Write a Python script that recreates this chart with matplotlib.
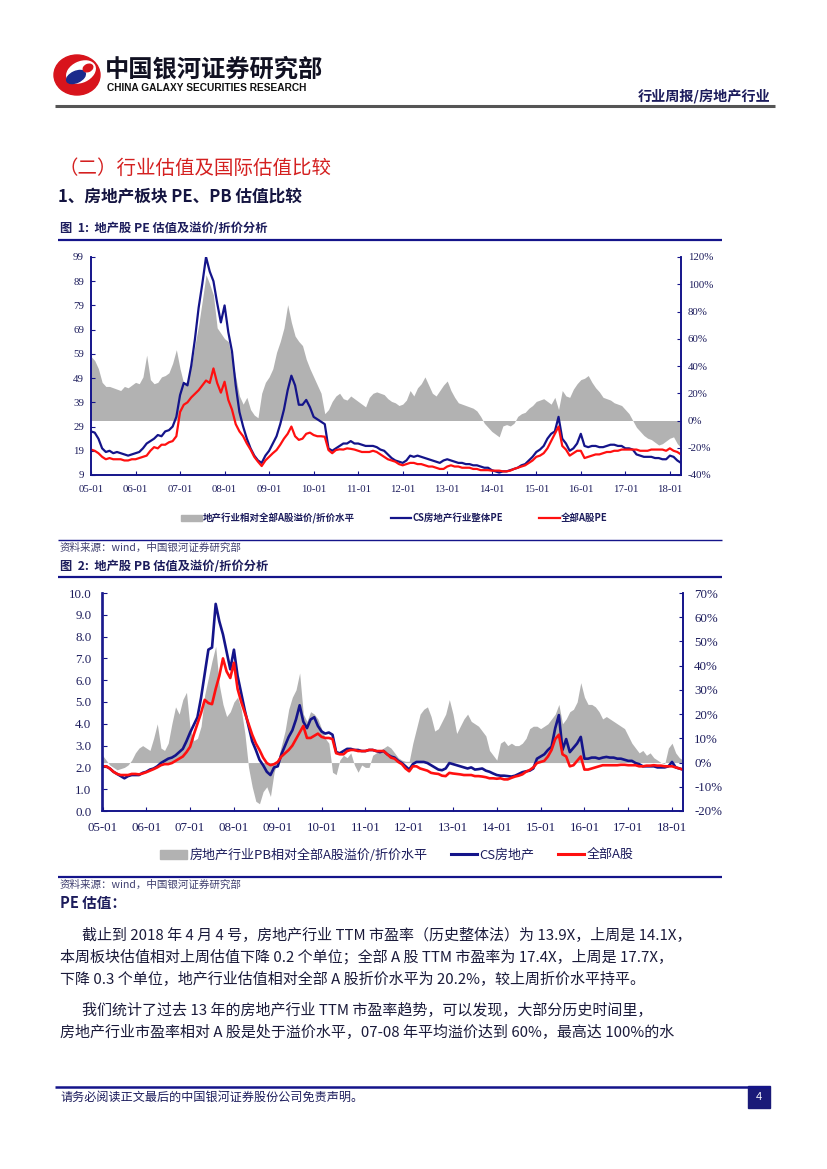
import numpy as np
import matplotlib
matplotlib.use("Agg")
import matplotlib.pyplot as plt
from matplotlib.patches import Ellipse, Rectangle, Patch
from matplotlib.lines import Line2D

plt.rcParams['font.family'] = ['Noto Sans CJK SC', 'DejaVu Sans']

# ---------------- data (monthly, 2005-01 .. 2018-04) ----------------
x_ticklabels = ['05-01', '06-01', '07-01', '08-01', '09-01', '10-01', '11-01',
                '12-01', '13-01', '14-01', '15-01', '16-01', '17-01', '18-01']

pe_cs = [27, 26.5, 24, 20, 18.5, 19, 18, 18.5, 18, 17.5, 17, 17.5,
         18, 18.5, 20, 22, 23, 24, 25.5, 25, 27, 27.5, 29, 33,
         42, 47, 46, 54, 65, 78, 88, 99, 93, 89, 80, 72,
         79, 68, 60, 46, 35, 29, 24, 20, 17, 15, 14, 17,
         19, 22, 25, 30, 36, 44, 50, 46, 38, 38, 40, 37,
         33, 32, 31, 30, 20, 19, 20, 21, 22, 22, 23, 22,
         22, 21.5, 21, 21, 21, 20.5, 19.5, 19, 17.5, 16, 15, 14.5,
         14, 15, 17, 16.5, 17, 16.5, 16, 15.5, 15, 14.5, 14, 15,
         15.5, 15, 14.5, 14, 14, 13.5, 13.5, 13, 13, 12.5, 12, 12,
         11, 10.5, 10, 10.5, 10.5, 11, 11.5, 12, 13, 13.5, 15, 16.5,
         18.5, 19.5, 21, 24, 26, 27, 33, 24, 22, 19, 20, 22,
         26, 21, 20.5, 21, 21, 20.5, 20.5, 21, 21.5, 21.5, 21, 21,
         20, 20, 19.5, 17.5, 17, 16.5, 16.5, 16.5, 16, 16, 15.5, 15.5,
         17, 16.5, 15, 14]

pe_all = [19.5, 19, 18, 16.5, 15.5, 16, 15.5, 15.5, 15.5, 15, 15, 15.5,
          15.5, 16, 16.5, 17, 19, 20.5, 20, 21.5, 21.5, 22.5, 23, 25,
          35, 38, 39, 41, 42.5, 44, 46, 48, 47, 53, 47, 43,
          47.5, 40, 36, 30, 27, 25, 22, 19.5, 16.5, 14.5, 12.7, 15,
          16.5, 18, 19.3, 21.5, 24, 26, 29, 25, 23.5, 24, 26, 26.5,
          25.5, 25, 25, 24.8, 19.3, 18, 19.3, 19.6, 19.5, 20, 19.8, 19.5,
          19, 18.5, 18.5, 18.5, 19, 18.5, 17.5, 16.5, 15.5, 15, 14.5, 13.5,
          13, 13.5, 14, 14, 13.5, 13.5, 13, 12.5, 12.5, 12, 11.5, 11.5,
          12.5, 13, 12.5, 12.5, 12, 12, 12, 11.5, 11.5, 11, 11, 11,
          10.8, 10.8, 10.8, 10.5, 10.5, 10.8, 11.5, 12, 12.5, 13, 14, 15,
          16.5, 17, 18, 20, 23, 26, 29, 21, 19.5, 17, 18, 19,
          19, 16, 16.5, 17, 17.5, 17.5, 18, 18.5, 18.5, 19, 19, 19.5,
          19.5, 19.5, 19.5, 19.5, 19, 19, 19, 19.5, 19.5, 19.5, 19.5, 19,
          20, 19, 18.5, 17.5]

pe_premium = [47, 44, 38, 28, 25, 25, 24, 23, 22, 25, 24, 26,
              28, 27, 32, 48, 30, 27, 28, 32, 33, 35, 42, 52,
              38, 27, 29, 40, 55, 70, 88, 107, 100, 92, 68, 64,
              60, 58, 45, 32, 18, 12, 17, 8, 4, 2, 20, 28,
              32, 38, 50, 58, 68, 85, 72, 62, 58, 55, 45, 38,
              32, 26, 20, 5, 8, 14, 18, 20, 16, 15, 18, 16,
              14, 12, 10, 17, 20, 21, 20, 19, 16, 14, 13, 11,
              12, 15, 22, 18, 24, 27, 32, 26, 20, 18, 22, 26,
              29, 22, 17, 13, 12, 11, 10, 9, 7, 3, -2, -5,
              -8, -10, -12, -4, -3, -4, -2, 3, 5, 6, 9, 11,
              14, 15, 16, 14, 12, 17, 8, 22, 18, 17, 23, 27,
              30, 31, 33, 28, 24, 21, 17, 16, 15, 13, 12, 11,
              8, 5, 0, -5, -8, -11, -13, -14, -16, -18, -17, -15,
              -13, -12, -17, -20]

pb_cs = [2.05, 2.05, 1.95, 1.8, 1.7, 1.6, 1.5, 1.6, 1.65, 1.65, 1.65, 1.75,
         1.8, 1.9, 1.95, 2.05, 2.2, 2.3, 2.4, 2.45, 2.55, 2.7, 2.85, 3.2,
         3.6, 3.95, 4.3, 5.2, 6.3, 7.4, 7.5, 9.5, 8.7, 8.1, 7.3, 6.5,
         7.4, 6.2, 5.4, 4.6, 3.9, 3.2, 2.8, 2.35, 2.1, 1.8, 1.65, 2.0,
         2.05, 2.6, 3.0, 3.4, 3.7, 4.2, 4.85, 4.1, 3.8, 4.2, 4.3, 3.9,
         3.65, 3.55, 3.6, 3.5, 2.7, 2.65, 2.75, 2.85, 2.85, 2.8, 2.8, 2.75,
         2.75, 2.8, 2.8, 2.75, 2.7, 2.75, 2.6, 2.5, 2.45, 2.3, 2.2, 2.05,
         1.9, 2.15, 2.25, 2.25, 2.25, 2.2, 2.1, 2.0, 1.9, 1.87, 1.95, 2.2,
         2.15, 2.1, 2.05, 2.0, 1.95, 2.0, 1.9, 1.92, 1.95, 1.85, 1.8, 1.72,
         1.65, 1.62, 1.62, 1.6, 1.58, 1.62, 1.7, 1.78, 1.82, 1.85, 1.95, 2.4,
         2.5, 2.6, 2.8, 2.95, 3.8, 4.4, 2.8, 3.3, 2.7, 2.9, 3.1, 3.4,
         2.4, 2.4, 2.45, 2.45, 2.4, 2.45, 2.48, 2.45, 2.45, 2.4, 2.4, 2.35,
         2.3, 2.3, 2.2, 2.15, 2.05, 2.05, 2.05, 2.05, 2.0, 2.0, 2.0, 2.05,
         2.25, 2.0, 1.95, 1.9]

pb_all = [2.05, 2.05, 1.95, 1.8, 1.7, 1.65, 1.65, 1.65, 1.7, 1.7, 1.68, 1.72,
          1.78, 1.85, 1.92, 2.0, 2.1, 2.15, 2.15, 2.2, 2.3, 2.4, 2.5, 2.7,
          2.95, 3.5, 4.0, 4.5, 5.1, 4.95, 4.9, 5.6, 6.2, 7.0, 6.4, 6.1,
          6.8, 5.6, 5.0, 4.5, 4.0, 3.5, 3.1, 2.8, 2.45, 2.2, 2.1, 2.15,
          2.25, 2.5, 2.65, 2.8, 3.0, 3.3, 3.6, 3.9, 3.35, 3.35, 3.45, 3.55,
          3.4, 3.35, 3.35, 3.3, 2.65, 2.6, 2.6, 2.75, 2.8, 2.8, 2.75, 2.75,
          2.75, 2.8, 2.8, 2.75, 2.75, 2.75, 2.6, 2.45, 2.4, 2.25, 2.15, 1.95,
          1.82, 2.05, 2.05, 1.95, 1.9, 1.85, 1.75, 1.72, 1.7, 1.62, 1.6, 1.75,
          1.72, 1.7, 1.68, 1.65, 1.65, 1.65, 1.6, 1.6, 1.58, 1.55, 1.5, 1.5,
          1.48, 1.5, 1.45, 1.45, 1.52, 1.58, 1.62, 1.68, 1.8, 1.88, 2.0, 2.2,
          2.25, 2.3, 2.5, 2.8, 3.3, 3.5, 2.6, 2.5, 2.05, 2.1, 2.3, 2.5,
          1.9, 1.9, 1.95, 2.0, 2.05, 2.1, 2.1, 2.1, 2.1, 2.1, 2.12, 2.12,
          2.1, 2.1, 2.1, 2.05, 2.05, 2.08, 2.08, 2.1, 2.08, 2.08, 2.05, 2.05,
          2.05, 2.0, 1.95, 1.9]

pb_premium = [3, 1, -1, -2, -3, -2.5, -2, -1, 1, 4, 6, 7,
              6, 5, 10, 16, 6, 5, 8, 16, 23, 20, 26, 29,
              14, 9, 10, 15, 28, 35, 42, 48, 32, 24, 19, 21,
              25, 27, 22, 12, -2, -10, -16, -17, -12, -10, -14, -4,
              1, 7, 13, 22, 27, 30, 37, 20, 17, 21, 20, 18,
              14, 10, 8, -4, -5, 1, 3, 2, 4, -1, -4, -1,
              -2, -2, 3, 4, 5, 6, 7, 6, 4, 2, 1, 0.5,
              0.5, 8, 14, 20, 22, 23, 19, 13, 14, 17, 20, 26,
              20, 12, 15, 18, 20, 17, 16, 15, 13, 11, 5, 3,
              1, 8, 9, 7, 8, 7, 7, 8, 10, 14, 15, 15,
              14, 15, 16, 18, 20, 24, 16, 18, 21, 22, 25, 33,
              27, 24, 24, 23, 21, 18, 19, 18, 17, 16, 15, 14,
              11, 8, 6, 4, 5, 3, 4, 2, 1, 0, -0.5, 6,
              8, 4, 2, 1]

for s in (pe_cs, pe_all, pe_premium, pb_cs, pb_all, pb_premium):
    assert len(s) == 160, len(s)

months = np.arange(160)

NAVY = '#14148a'
TXT = '#1c1c5c'
GRAY = '#b2b2b2'
RED = '#ff1010'
W, H = 827, 1169

fig = plt.figure(figsize=(8.27, 11.69), dpi=100)
page = fig.add_axes([0, 0, 1, 1])
page.set_xlim(0, W)
page.set_ylim(H, 0)
page.axis('off')


def T(x, y, s, size, color=TXT, weight='normal', ha='left', va='center', **kw):
    page.text(x, y, s, fontsize=size, color=color, fontweight=weight, ha=ha, va=va, **kw)


def hline(y, x0, x1, lw, color=NAVY):
    page.plot([x0, x1], [y, y], color=color, lw=lw, solid_capstyle='butt')


# ---- header ----
page.add_patch(Ellipse((77, 75), 46, 40, color='#d8141c'))
page.add_patch(Ellipse((81, 72), 30, 20, angle=-25, color='white'))
page.add_patch(Ellipse((76, 77), 20, 11, angle=-25, color='#1b2a8c'))
page.add_patch(Ellipse((88, 68), 10, 7, angle=-25, color='#d8141c'))
T(105, 70, '中国银河证券研究部', 17.5, color='#111122', weight='bold')
T(107, 88, 'CHINA GALAXY SECURITIES RESEARCH', 7.3, color='#111111', weight='bold',
  family=['Liberation Sans'])
T(770, 96, '行业周报/房地产行业', 10.2, color=TXT, weight='bold', ha='right')
hline(106, 55, 775, 2.2, color='#555555')

T(58, 168, '（二）行业估值及国际估值比较', 14, color='#d42020')
T(58, 197, '1、房地产板块 PE、PB 估值比较', 12, color='#141440', weight='bold')
T(60, 228, '图  1:  地产股 PE 估值及溢价/折价分析', 8.8, color=TXT, weight='bold')
hline(240, 58, 722, 1.6)

hline(540, 58, 722, 1.0)
T(60, 548, '资料来源：wind，中国银河证券研究部', 7.6, color='#404070', style='italic')
T(60, 566, '图  2:  地产股 PB 估值及溢价/折价分析', 8.8, color=TXT, weight='bold')
hline(577, 58, 722, 1.6)
hline(877, 58, 722, 1.6)
T(60, 885, '资料来源：wind，中国银河证券研究部', 7.6, color='#404070', style='italic')
T(60, 903, 'PE 估值：', 10.5, color=TXT, weight='bold')

body = [
    (82, 935, '截止到 2018 年 4 月 4 号，房地产行业 TTM 市盈率（历史整体法）为 13.9X，上周是 14.1X，'),
    (60, 957, '本周板块估值相对上周估值下降 0.2 个单位；全部 A 股 TTM 市盈率为 17.4X，上周是 17.7X，'),
    (60, 979, '下降 0.3 个单位，地产行业估值相对全部 A 股折价水平为 20.2%，较上周折价水平持平。'),
    (82, 1010, '我们统计了过去 13 年的房地产行业 TTM 市盈率趋势，可以发现，大部分历史时间里，'),
    (60, 1032, '房地产行业市盈率相对 A 股是处于溢价水平，07-08 年平均溢价达到 60%，最高达 100%的水'),
]
for bx, by, s in body:
    T(bx, by, s, 10.8, color='#1a1a3a')

hline(1087, 55, 770, 1.8)
T(60, 1097, '请务必阅读正文最后的中国银河证券股份公司免责声明。', 8.7, color=TXT)
page.add_patch(Rectangle((748, 1086), 22, 22, color='#1a1a78'))
T(759, 1097, '4', 8, color='white', ha='center', family=['Liberation Sans'])


def pos(l, t, r, b):
    return [l / W, 1 - b / H, (r - l) / W, (b - t) / H]


def style_axes(ax, axr, fs, xpad, ypad):
    for a in (ax, axr):
        a.spines['top'].set_visible(False)
        for sp in ('left', 'right', 'bottom'):
            a.spines[sp].set_color(NAVY)
            a.spines[sp].set_linewidth(1.2)
        a.tick_params(direction='in', length=3, width=0.8, color=NAVY,
                      labelsize=fs, labelcolor=TXT, pad=ypad)
    ax.tick_params(axis='x', pad=xpad)
    for lab in ax.get_xticklabels() + ax.get_yticklabels() + axr.get_yticklabels():
        lab.set_family('Liberation Serif')


# ---- chart 1: PE ----
ax1 = fig.add_axes(pos(91, 257, 681, 475))
ax1r = ax1.twinx()
ax1r.fill_between(months, 0, pe_premium, color=GRAY, lw=0)
ax1r.set_ylim(-40, 120)
ax1r.set_yticks(np.arange(-40, 121, 20))
ax1r.set_yticklabels([f'{v}%' for v in range(-40, 121, 20)])
ax1.plot(months, pe_cs, color=NAVY, lw=1.6)
ax1.plot(months, pe_all, color=RED, lw=1.6)
ax1.set_ylim(9, 99)
ax1.set_yticks(np.arange(9, 100, 10))
ax1.set_xlim(0, 159)
ax1.set_xticks(np.arange(0, 157, 12))
ax1.set_xticklabels(x_ticklabels)
ax1.set_zorder(ax1r.get_zorder() + 1)
ax1.patch.set_visible(False)
style_axes(ax1, ax1r, 7.8, 7, 5)

h1 = [Patch(color=GRAY), Line2D([], [], color=NAVY, lw=1.6), Line2D([], [], color=RED, lw=1.6)]
fig.legend(h1, ['地产行业相对全部A股溢价/折价水平', 'CS房地产行业整体PE', '全部A股PE'],
           loc='center', bbox_to_anchor=(394 / W, 1 - 518 / H), ncol=3, frameon=False,
           prop={'size': 6.8, 'weight': 'bold'}, labelcolor=TXT, handlelength=2.2,
           handleheight=0.6, columnspacing=3.8, handletextpad=0.1)

# ---- chart 2: PB ----
ax2 = fig.add_axes(pos(102.5, 593, 683, 811))
ax2r = ax2.twinx()
ax2r.fill_between(months, 0, pb_premium, color=GRAY, lw=0)
ax2r.set_ylim(-20, 70)
ax2r.set_yticks(np.arange(-20, 71, 10))
ax2r.set_yticklabels([f'{v}%' for v in range(-20, 71, 10)])
ax2.plot(months, pb_cs, color=NAVY, lw=1.9)
ax2.plot(months, pb_all, color=RED, lw=1.9)
ax2.set_ylim(0, 10)
ax2.set_yticks(np.arange(0, 10.01, 1))
ax2.set_yticklabels([f'{v:.1f}' for v in np.arange(0, 10.01, 1)])
ax2.set_xlim(0, 159)
ax2.set_xticks(np.arange(0, 157, 12))
ax2.set_xticklabels(x_ticklabels)
ax2.set_zorder(ax2r.get_zorder() + 1)
ax2.patch.set_visible(False)
style_axes(ax2, ax2r, 9.3, 8, 8)

h2 = [Patch(color=GRAY), Line2D([], [], color=NAVY, lw=2.2), Line2D([], [], color=RED, lw=2.2)]
fig.legend(h2, ['房地产行业PB相对全部A股溢价/折价水平', 'CS房地产', '全部A股'],
           loc='center', bbox_to_anchor=(397 / W, 1 - 855 / H), ncol=3, frameon=False,
           prop={'size': 9.4}, labelcolor=TXT, handlelength=2.0,
           handleheight=0.7, columnspacing=1.8, handletextpad=0.2)

fig.savefig('out.png', dpi=100)
